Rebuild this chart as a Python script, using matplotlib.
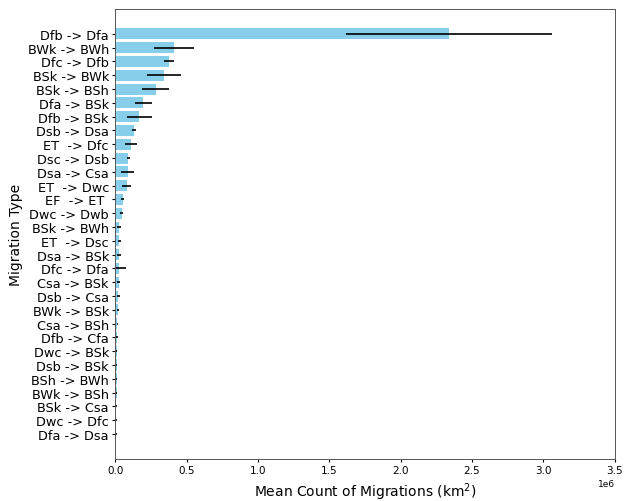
import matplotlib.pyplot as plt
import numpy as np

# migration types, top to bottom
labels = ['Dfb -> Dfa', 'BWk -> BWh', 'Dfc -> Dfb', 'BSk -> BWk', 'BSk -> BSh',
          'Dfa -> BSk', 'Dfb -> BSk', 'Dsb -> Dsa', 'ET  -> Dfc', 'Dsc -> Dsb',
          'Dsa -> Csa', 'ET  -> Dwc', 'EF  -> ET ', 'Dwc -> Dwb', 'BSk -> BWh',
          'ET  -> Dsc', 'Dsa -> BSk', 'Dfc -> Dfa', 'Csa -> BSk', 'Dsb -> Csa',
          'BWk -> BSk', 'Csa -> BSh', 'Dfb -> Cfa', 'Dwc -> BSk', 'Dsb -> BSk',
          'BSh -> BWh', 'BWk -> BSh', 'BSk -> Csa', 'Dwc -> Dfc', 'Dfa -> Dsa']

mean_km2 = [2.34e6, 0.41e6, 0.375e6, 0.34e6, 0.285e6,
            0.198e6, 0.17e6, 0.133e6, 0.11e6, 0.093e6,
            0.088e6, 0.081e6, 0.053e6, 0.046e6, 0.03e6,
            0.03e6, 0.028e6, 0.025e6, 0.025e6, 0.023e6,
            0.018e6, 0.016e6, 0.015e6, 0.012e6, 0.011e6,
            0.010e6, 0.010e6, 0.009e6, 0.008e6, 0.006e6]

std_km2 = [0.72e6, 0.14e6, 0.034e6, 0.12e6, 0.095e6,
           0.06e6, 0.085e6, 0.012e6, 0.042e6, 0.01e6,
           0.044e6, 0.033e6, 0.012e6, 0.01e6, 0.014e6,
           0.01e6, 0.012e6, 0.05e6, 0.01e6, 0.012e6,
           0.008e6, 0.006e6, 0.008e6, 0.004e6, 0.004e6,
           0.005e6, 0.006e6, 0.005e6, 0.004e6, 0.004e6]

fig = plt.figure(figsize=(6.26, 5.02), dpi=100)
ax = fig.add_axes([0.184, 0.084, 0.798, 0.896])

y = np.arange(len(labels))
ax.barh(y, mean_km2, xerr=std_km2, color='skyblue', ecolor='black', height=0.8,
        error_kw={'elinewidth': 1.2})

ax.set_yticks(y)
ax.set_yticklabels(labels, fontsize=9.3)
ax.set_ylim(len(labels) - 1 + 1.8, -1.8)
ax.set_xlim(0, 3.5e6)
ax.tick_params(axis='x', labelsize=7.5, length=2.5, pad=2)
ax.tick_params(axis='y', length=2.5, pad=2)
ax.xaxis.get_offset_text().set_fontsize(6.5)
for s in ax.spines.values():
    s.set_linewidth(0.7)
    s.set_color('#555555')

ax.set_xlabel('Mean Count of Migrations (km$^2$)', fontsize=10, labelpad=4)
ax.set_ylabel('Migration Type', fontsize=10, labelpad=3)

fig.savefig('out.png')
